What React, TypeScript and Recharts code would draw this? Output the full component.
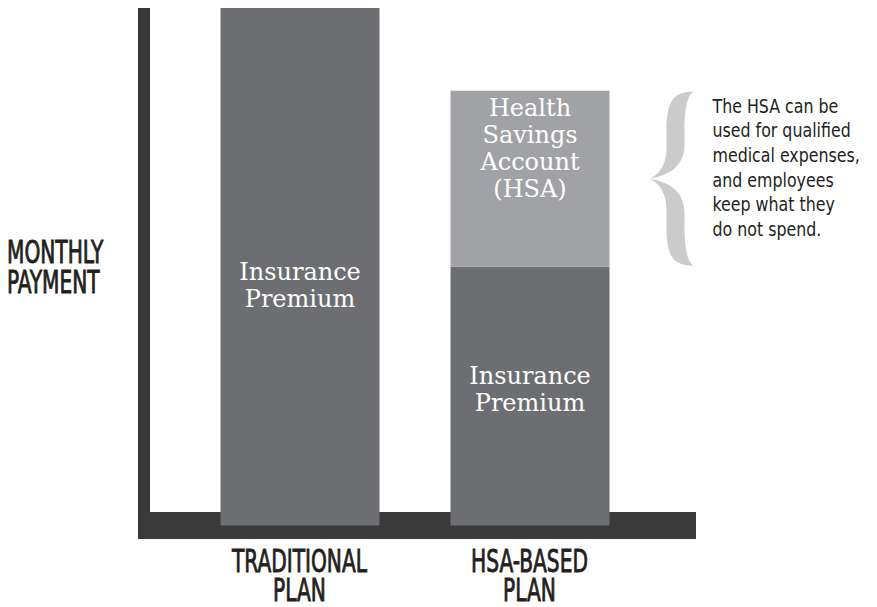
import { Bar, BarChart, LabelList, ReferenceLine, XAxis, YAxis } from 'recharts';

const plans = ['TRADITIONAL PLAN', 'HSA-BASED PLAN'];
const premium = [100, 50];
const hsa = [0, 34];
const premiumLabels = ['Insurance Premium', 'Insurance Premium'];
const hsaLabels = ['', 'Health Savings Account (HSA)'];
const yTitle = ['MONTHLY', 'PAYMENT'];
const noteLines = [
  'The HSA can be',
  'used for qualified',
  'medical expenses,',
  'and employees',
  'keep what they',
  'do not spend.',
];

const data = plans.map((plan, i) => ({
  plan,
  premium: premium[i],
  hsa: hsa[i],
  premiumLabel: premiumLabels[i],
  hsaLabel: hsaLabels[i],
}));

const AXIS = '#3a3a3a';
const DARK_BAR = '#6d6e71';
const LIGHT_BAR = '#a1a2a5';
const BRACE = '#cbcbcb';
const INK = '#231f20';
const GOTHIC = "'Liberation Sans Narrow', 'Arial Narrow', 'DejaVu Sans Condensed', sans-serif";
const SLAB = "'DejaVu Serif', serif";

function box(p: any) {
  const vb = p.viewBox && p.viewBox.width != null ? p.viewBox : p;
  return { x: Number(vb.x), y: Number(vb.y), w: Number(vb.width), h: Number(vb.height) };
}

function Condensed({ x, y, text, anchor = 'middle' }: { x: number; y: number; text: string; anchor?: string }) {
  return (
    <text
      transform={`translate(${x},${y}) scale(0.69,1)`}
      textAnchor={anchor}
      fontFamily={GOTHIC}
      fontSize={32.5}
      fill={INK}
      stroke={INK}
      strokeWidth={0.9}
    >
      {text}
    </text>
  );
}

function PlanTick(props: any) {
  const { x, y, payload } = props;
  const lines = String(payload.value).split(' ');
  return (
    <g>
      {lines.map((line, i) => (
        <Condensed key={i} x={x} y={y + 33 + i * 29} text={line} />
      ))}
    </g>
  );
}

function YTitle(props: any) {
  const b = box(props);
  const mid = b.y + b.h / 2 - 7;
  return (
    <g>
      {yTitle.map((line, i) => (
        <Condensed key={i} x={7} y={mid - 4 + i * 30} text={line} anchor="start" />
      ))}
    </g>
  );
}

// where the text block sits inside each bar (fraction of bar height)
function barText(fractions: number[]) {
  return (props: any) => {
    const { value, index } = props;
    if (!value) return null;
    const b = box(props);
    const lines = String(value).split(' ');
    const step = 27;
    const yc = b.y + b.h * fractions[index];
    const first = yc - ((lines.length - 1) * step) / 2 + 9;
    return (
      <text textAnchor="middle" fontFamily={SLAB} fontSize={24} fill="#ffffff">
        {lines.map((line, i) => (
          <tspan key={i} x={b.x + b.w / 2} y={first + i * step}>
            {line}
          </tspan>
        ))}
      </text>
    );
  };
}

function HsaNote(props: any) {
  const { value } = props;
  if (!value) return null;
  const b = box(props);
  const bx = b.x + b.w;
  const T = bx + 39;
  const Ao = bx + 57;
  const Ai = bx + 75;
  const R = bx + 84;
  const top = b.y + 1;
  const bot = b.y + b.h - 1;
  const M = (top + bot) / 2;
  const d = [
    `M ${R} ${top}`,
    `C ${Ao + 6} ${top} ${Ao} ${top + 10} ${Ao} ${top + 40}`,
    `L ${Ao} ${M - 30}`,
    `C ${Ao} ${M - 12} ${T + 8} ${M - 2} ${T} ${M}`,
    `C ${T + 8} ${M + 2} ${Ao} ${M + 12} ${Ao} ${M + 30}`,
    `L ${Ao} ${bot - 40}`,
    `C ${Ao} ${bot - 10} ${Ao + 6} ${bot} ${R} ${bot}`,
    `C ${Ai + 4} ${bot - 3} ${Ai} ${bot - 14} ${Ai} ${bot - 40}`,
    `L ${Ai} ${M + 34}`,
    `C ${Ai} ${M + 14} ${T + 22} ${M + 3} ${T} ${M}`,
    `C ${T + 22} ${M - 3} ${Ai} ${M - 14} ${Ai} ${M - 34}`,
    `L ${Ai} ${top + 40}`,
    `C ${Ai} ${top + 14} ${Ai + 4} ${top + 3} ${R} ${top}`,
    'Z',
  ].join(' ');
  return (
    <g>
      <path d={d} fill={BRACE} />
      <text
        transform={`translate(${bx + 103},${b.y + 22}) scale(0.88,1)`}
        fontFamily={GOTHIC}
        fontSize={20}
        fill={INK}
      >
        {noteLines.map((line, i) => (
          <tspan key={i} x={0} y={i * 24.6}>
            {line}
          </tspan>
        ))}
      </text>
    </g>
  );
}

export default function App() {
  return (
    <div style={{ position: 'absolute', left: 0, top: 0, background: '#fff' }}>
      <BarChart
        width={877}
        height={607}
        data={data}
        barSize={159}
        margin={{ top: 8, right: 181, bottom: 0, left: 0 }}
      >
        <XAxis
          dataKey="plan"
          height={68}
          axisLine={false}
          tickLine={false}
          tickSize={0}
          tickMargin={0}
          padding={{ left: 40.5, right: 51.5 }}
          tick={<PlanTick />}
          interval={0}
        />
        <YAxis
          type="number"
          width={144}
          domain={[-2.6, 100]}
          allowDataOverflow
          tick={false}
          tickLine={false}
          axisLine={{ stroke: AXIS, strokeWidth: 12 }}
          label={{ content: <YTitle /> }}
        />
        <ReferenceLine y={0} stroke={AXIS} strokeWidth={27} zIndex={-10} />
        <Bar dataKey="premium" stackId="plan" fill={DARK_BAR} isAnimationActive={false}>
          <LabelList dataKey="premiumLabel" content={barText([0.534, 0.472])} />
        </Bar>
        <Bar dataKey="hsa" stackId="plan" fill={LIGHT_BAR} isAnimationActive={false}>
          <LabelList dataKey="hsaLabel" content={barText([0.32, 0.32])} />
          <LabelList dataKey="hsa" content={HsaNote} />
        </Bar>
      </BarChart>
    </div>
  );
}
